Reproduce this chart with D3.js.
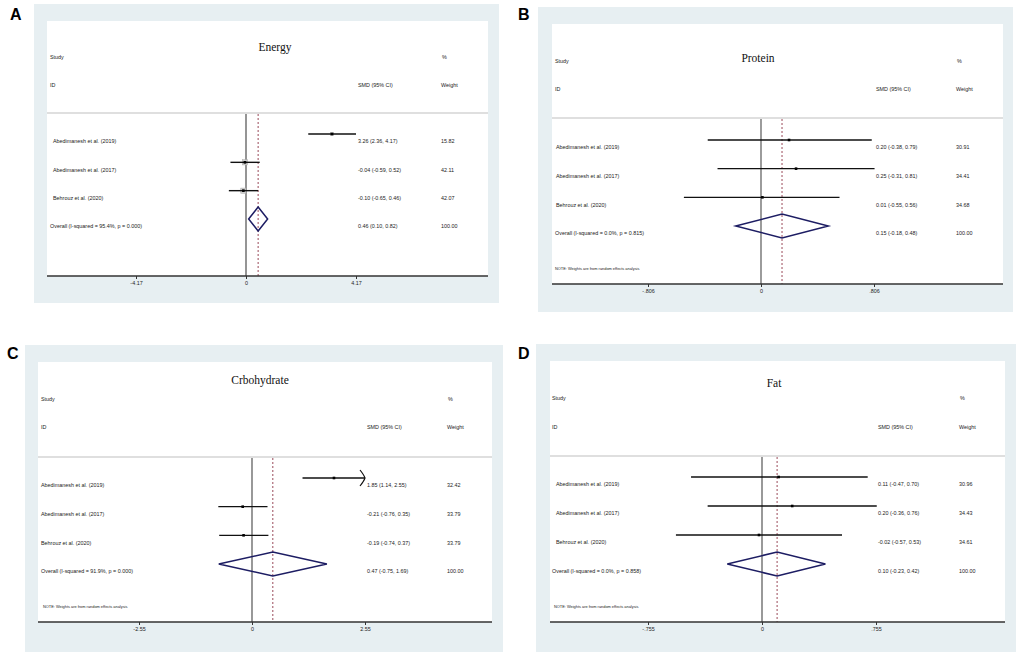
<!DOCTYPE html>
<html>
<head>
<meta charset="utf-8">
<script src="https://cdn.jsdelivr.net/npm/d3@7/dist/d3.min.js"></script>
<style>
  body { margin: 0; background: #fff; }
  svg { display: block; }
  .small { font-family: "Liberation Sans", Arial, sans-serif; font-size: 5.4px; fill: #222; }
  .note { font-family: "Liberation Sans", Arial, sans-serif; font-size: 3.9px; fill: #222; }
  .title { font-family: "Liberation Serif", "Times New Roman", serif; font-size: 11.5px; fill: #111; }
  .letter { font-family: "Liberation Sans", Arial, sans-serif; font-size: 16px; font-weight: bold; fill: #000; }
</style>
</head>
<body>
<div id="chart"></div>
<script>
// ---- data ----
const panelLetters = ["A", "B", "C", "D"];
const panelTitles = ["Energy", "Protein", "Crbohydrate", "Fat"];
const studies = ["Abedimanesh et al. (2019)", "Abedimanesh et al. (2017)", "Behrouz et al. (2020)"];

// last entry of each list is the overall (pooled) estimate
const energySMD = [3.26, -0.04, -0.10, 0.46];
const energyLow = [2.36, -0.59, -0.65, 0.10];
const energyHigh = [4.17, 0.52, 0.46, 0.82];
const energyWeight = [15.82, 42.11, 42.07, 100.00];

const proteinSMD = [0.20, 0.25, 0.01, 0.15];
const proteinLow = [-0.38, -0.31, -0.55, -0.18];
const proteinHigh = [0.79, 0.81, 0.56, 0.48];
const proteinWeight = [30.91, 34.41, 34.68, 100.00];

const carbSMD = [1.85, -0.21, -0.19, 0.47];
const carbLow = [1.14, -0.76, -0.74, -0.75];
const carbHigh = [2.55, 0.35, 0.37, 1.69];
const carbWeight = [32.42, 33.79, 33.79, 100.00];

const fatSMD = [0.11, 0.20, -0.02, 0.10];
const fatLow = [-0.47, -0.36, -0.57, -0.23];
const fatHigh = [0.70, 0.76, 0.53, 0.42];
const fatWeight = [30.96, 34.43, 34.61, 100.00];

const overallLabels = [
  "Overall  (I-squared = 95.4%, p = 0.000)",
  "Overall  (I-squared = 0.0%, p = 0.815)",
  "Overall  (I-squared = 91.9%, p = 0.000)",
  "Overall  (I-squared = 0.0%, p = 0.858)"
];
const tickMax = [4.17, 0.806, 2.55, 0.755];
const tickLabels = [
  ["-4.17", "0", "4.17"],
  ["-.806", "0", ".806"],
  ["-2.55", "0", "2.55"],
  ["-.755", "0", ".755"]
];
const noteText = "NOTE: Weights are from random effects analysis";

// ---- layout of each panel (page pixels) ----
const layouts = [
  { letter: [10, 20], outer: [34, 4, 499, 303], inner: [47, 21, 488], axisY: 276, x0: 246, xT: 356,
    title: [275, 47], head: [57, 85], studyX: 50, labelX: 53, weightX: 441, sepY: 113,
    rows: [134, 219], note: null, boxes: true, zero: { c: "#8a8a8a", w: 1.8 }, arrow: false },
  { letter: [518, 20], outer: [538, 7, 1013, 312], inner: [552, 24, 1003], axisY: 284, x0: 761, xT: 874,
    title: [758, 58], head: [61, 89], studyX: 555, labelX: 556, weightX: 956, sepY: 118,
    rows: [140, 226], note: [555, 269], boxes: false, zero: { c: "#666", w: 1.3 }, arrow: false },
  { letter: [7, 359], outer: [25, 345, 503, 652], inner: [38, 362, 492], axisY: 622, x0: 252, xT: 365,
    title: [260, 380], head: [399, 427], studyX: 41, labelX: 41, weightX: 447, sepY: 457,
    rows: [478, 564], note: [43, 607], boxes: false, zero: { c: "#444", w: 1.1 }, arrow: true },
  { letter: [518, 359], outer: [536, 344, 1016, 652], inner: [550, 361, 1005], axisY: 622, x0: 762, xT: 876,
    title: [774, 383], head: [398, 427], studyX: 552, labelX: 556, weightX: 959, sepY: 456,
    rows: [477, 564], note: [554, 607], boxes: false, zero: { c: "#555", w: 1.2 }, arrow: false }
];

const series = [
  { smd: energySMD, lo: energyLow, hi: energyHigh, w: energyWeight },
  { smd: proteinSMD, lo: proteinLow, hi: proteinHigh, w: proteinWeight },
  { smd: carbSMD, lo: carbLow, hi: carbHigh, w: carbWeight },
  { smd: fatSMD, lo: fatLow, hi: fatHigh, w: fatWeight }
];

const width = 1021, height = 656;
// Stata prints plain hyphen minus signs
const f2 = n => n.toFixed(2);

const svg = d3.select("#chart").append("svg")
  .attr("width", width)
  .attr("height", height);

const drawPanel = (i) => {
  const L = layouts[i];
  const S = series[i];
  const g = svg.append("g").attr("class", "panel");

  // panel letter
  g.append("text").attr("class", "letter")
    .attr("x", L.letter[0]).attr("y", L.letter[1])
    .text(panelLetters[i]);

  // light frame and white plot region
  g.append("rect")
    .attr("x", L.outer[0]).attr("y", L.outer[1])
    .attr("width", L.outer[2] - L.outer[0]).attr("height", L.outer[3] - L.outer[1])
    .attr("fill", "#e7eff2");
  g.append("rect")
    .attr("x", L.inner[0]).attr("y", L.inner[1])
    .attr("width", L.inner[2] - L.inner[0]).attr("height", L.axisY - L.inner[1])
    .attr("fill", "#fff");

  const x = d3.scaleLinear().domain([0, tickMax[i]]).range([L.x0, L.xT]);
  const y = d3.scaleLinear().domain([0, 3]).range(L.rows);
  const valueX = L.xT + 2;

  // title and column headers
  g.append("text").attr("class", "title")
    .attr("x", L.title[0]).attr("y", L.title[1]).attr("dy", "0.35em")
    .attr("text-anchor", "middle").text(panelTitles[i]);

  const heads = [
    [L.studyX, L.head[0], "Study"], [L.weightX + 1, L.head[0], "%"],
    [L.studyX, L.head[1], "ID"], [valueX, L.head[1], "SMD (95% CI)"], [L.weightX, L.head[1], "Weight"]
  ];
  g.selectAll(".head").data(heads).enter().append("text")
    .attr("class", "small head")
    .attr("x", d => d[0]).attr("y", d => d[1]).attr("dy", "0.35em")
    .text(d => d[2]);

  // separator under the header
  g.append("line")
    .attr("x1", L.inner[0]).attr("x2", L.inner[2])
    .attr("y1", L.sepY).attr("y2", L.sepY)
    .attr("stroke", "#d4d4d4").attr("stroke-width", 1.6);

  // no-effect line and pooled estimate line
  g.append("line")
    .attr("x1", x(0)).attr("x2", x(0))
    .attr("y1", L.sepY + 1).attr("y2", L.axisY)
    .attr("stroke", L.zero.c).attr("stroke-width", L.zero.w);
  g.append("line")
    .attr("x1", x(S.smd[3])).attr("x2", x(S.smd[3]))
    .attr("y1", L.sepY + 1).attr("y2", L.axisY)
    .attr("stroke", "#9a4a5a").attr("stroke-width", 1)
    .attr("stroke-dasharray", "2,2");

  const rows = d3.range(3).map(k => ({
    k, name: studies[k], smd: S.smd[k], lo: S.lo[k], hi: S.hi[k], w: S.w[k]
  }));

  // weight boxes (only visible in panel A)
  if (L.boxes) {
    g.selectAll(".wbox").data(rows).enter().append("rect")
      .attr("class", "wbox")
      .attr("x", d => x(d.smd) - 0.4 * Math.sqrt(d.w))
      .attr("y", d => y(d.k) - 0.4 * Math.sqrt(d.w))
      .attr("width", d => 0.8 * Math.sqrt(d.w))
      .attr("height", d => 0.8 * Math.sqrt(d.w))
      .attr("fill", "#cfcfcf").attr("stroke", "#aaa").attr("stroke-width", 0.5);
  }

  // confidence intervals
  g.selectAll(".ci").data(rows).enter().append("line")
    .attr("class", "ci")
    .attr("x1", d => x(d.lo)).attr("x2", d => x(d.hi))
    .attr("y1", d => y(d.k)).attr("y2", d => y(d.k))
    .attr("stroke", "#111").attr("stroke-width", 1.4);

  // point estimates
  g.selectAll(".pt").data(rows).enter().append("rect")
    .attr("class", "pt")
    .attr("x", d => x(d.smd) - 1.3).attr("y", d => y(d.k) - 1.3)
    .attr("width", 2.6).attr("height", 2.6)
    .attr("fill", "#000");

  // truncated interval arrow
  if (L.arrow) {
    rows.filter(d => d.hi >= tickMax[i]).forEach(d => {
      const tx = x(d.hi), ty = y(d.k);
      g.append("path")
        .attr("d", `M${tx - 5},${ty - 8} Q${tx - 1},${ty - 3} ${tx},${ty} Q${tx - 1},${ty + 3} ${tx - 5},${ty + 8}`)
        .attr("fill", "none").attr("stroke", "#111").attr("stroke-width", 1.2);
    });
  }

  // pooled diamond
  const oy = y(3);
  g.append("path")
    .attr("d", `M${x(S.lo[3])},${oy} L${x(S.smd[3])},${oy - 12} L${x(S.hi[3])},${oy} L${x(S.smd[3])},${oy + 12} Z`)
    .attr("fill", "none").attr("stroke", "#1d1d63").attr("stroke-width", 1.5);

  // row texts
  const textRows = rows.map(d => ({ k: d.k, name: d.name, ci: `${f2(d.smd)} (${f2(d.lo)}, ${f2(d.hi)})`, w: f2(d.w), lx: L.labelX }))
    .concat([{ k: 3, name: overallLabels[i], ci: `${f2(S.smd[3])} (${f2(S.lo[3])}, ${f2(S.hi[3])})`, w: f2(S.w[3]), lx: L.studyX }]);

  const tr = g.selectAll(".row").data(textRows).enter().append("g").attr("class", "row")
    .attr("transform", d => `translate(0,${y(d.k) + 7.5})`);
  tr.append("text").attr("class", "small").attr("x", d => d.lx).attr("dy", "0.35em").text(d => d.name);
  tr.append("text").attr("class", "small").attr("x", valueX).attr("dy", "0.35em").text(d => d.ci);
  tr.append("text").attr("class", "small").attr("x", L.weightX).attr("dy", "0.35em").text(d => d.w);

  if (L.note) {
    g.append("text").attr("class", "note")
      .attr("x", L.note[0]).attr("y", L.note[1]).attr("dy", "0.35em")
      .text(noteText);
  }

  // x axis
  g.append("line")
    .attr("x1", L.inner[0]).attr("x2", L.inner[2])
    .attr("y1", L.axisY).attr("y2", L.axisY)
    .attr("stroke", "#333").attr("stroke-width", 1.3);
  const xAxis = d3.axisBottom(x)
    .tickValues([-tickMax[i], 0, tickMax[i]])
    .tickFormat((d, j) => tickLabels[i][j])
    .tickSize(3)
    .tickPadding(2.5);
  const ax = g.append("g")
    .attr("transform", `translate(0,${L.axisY})`)
    .call(xAxis);
  ax.select(".domain").remove();
  ax.selectAll(".tick line").attr("stroke", "#333").attr("stroke-width", 1);
  ax.selectAll(".tick text")
    .attr("font-family", "'Liberation Sans', Arial, sans-serif")
    .attr("font-size", "5.4px").attr("fill", "#222");
};

panelLetters.forEach((_, i) => drawPanel(i));
</script>
</body>
</html>
